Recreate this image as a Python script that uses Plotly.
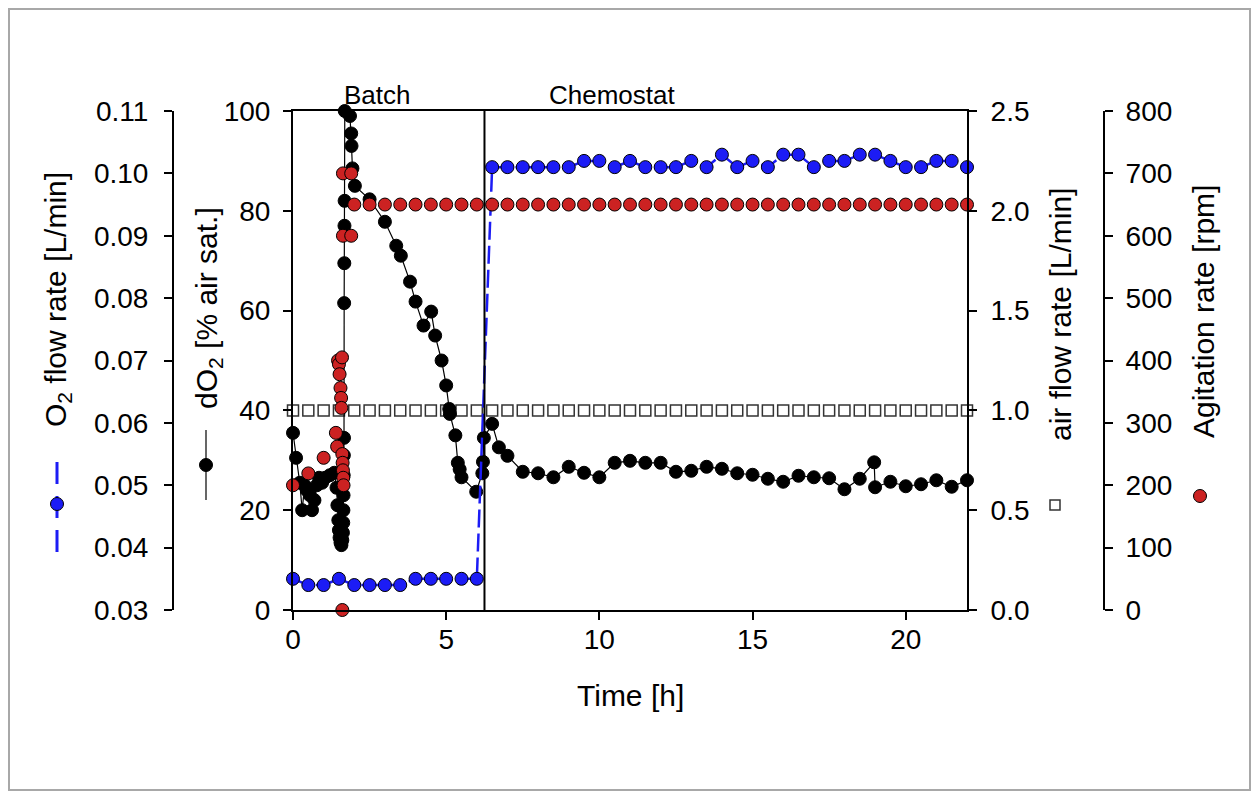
import plotly.graph_objects as go

# ---------------- data ----------------
# dissolved oxygen dO2 [% air sat.]
do2_time = [0.00, 0.10, 0.22, 0.30, 0.38, 0.45, 0.55, 0.62, 0.70, 0.78, 0.85, 0.95, 1.05, 1.20,
            1.35, 1.42, 1.45, 1.48, 1.50, 1.52, 1.55, 1.58, 1.61, 1.63, 1.64, 1.645, 1.65, 1.655,
            1.66, 1.665, 1.67, 1.675, 1.68, 1.685, 1.69, 1.86, 1.90, 1.91, 1.94, 2.02,
            2.50, 3.00, 3.37, 3.52, 3.82, 4.00, 4.26, 4.51, 4.64, 4.85, 5.00, 5.10, 5.12, 5.30,
            5.38, 5.44, 5.50, 5.98, 6.18, 6.20, 6.23, 6.50, 6.72,
            7.0, 7.5, 8.0, 8.5, 9.0, 9.5, 10.0, 10.5, 11.0, 11.5, 12.0, 12.5, 13.0, 13.5, 14.0,
            14.5, 15.0, 15.5, 16.0, 16.5, 17.0, 17.5, 18.0, 18.5, 18.97, 19.0, 19.5, 20.0, 20.5,
            21.0, 21.5, 22.0]
do2_value = [35.5, 30.5, 25.5, 20.0, 25.0, 24.0, 23.0, 20.0, 22.0, 25.0, 26.5, 25.5, 26.5, 27.0,
             27.5, 24.5, 21.0, 18.0, 16.0, 14.5, 13.5, 13.0, 14.0, 15.5, 17.5, 20.0, 23.0, 27.0,
             31.0, 34.5, 61.5, 69.5, 77.0, 82.0, 100.0, 99.0, 95.5, 93.0, 88.5, 85.0,
             82.3, 77.8, 73.0, 71.0, 65.8, 61.8, 57.0, 59.8, 55.0, 50.0, 45.0, 40.3, 39.3, 35.0,
             29.5, 28.2, 26.6, 23.7, 27.4, 29.7, 34.5, 37.3, 32.6,
             30.9, 27.7, 27.4, 26.6, 28.7, 27.5, 26.6, 29.5, 29.9, 29.5, 29.5, 27.7, 27.9, 28.7, 28.3,
             27.4, 27.1, 26.3, 25.7, 26.9, 26.6, 26.4, 24.2, 26.3, 29.6, 24.6, 25.7, 24.8, 25.2,
             26.0, 24.7, 26.0]

# O2 flow rate [L/min]
o2_time = [0.0, 0.5, 1.0, 1.5, 2.0, 2.5, 3.0, 3.5, 4.0, 4.5, 5.0, 5.5, 6.0,
           6.5, 7.0, 7.5, 8.0, 8.5, 9.0, 9.5, 10.0, 10.5, 11.0, 11.5, 12.0, 12.5, 13.0, 13.5,
           14.0, 14.5, 15.0, 15.5, 16.0, 16.5, 17.0, 17.5, 18.0, 18.5, 19.0, 19.5, 20.0, 20.5,
           21.0, 21.5, 22.0]
o2_value = [0.035, 0.034, 0.034, 0.035, 0.034, 0.034, 0.034, 0.034, 0.035, 0.035, 0.035, 0.035, 0.035,
            0.101, 0.101, 0.101, 0.101, 0.101, 0.101, 0.102, 0.102, 0.101, 0.102, 0.101, 0.101, 0.101,
            0.102, 0.101, 0.103, 0.101, 0.102, 0.101, 0.103, 0.103, 0.101, 0.102, 0.102, 0.103, 0.103,
            0.102, 0.101, 0.101, 0.102, 0.102, 0.101]

# air flow rate [L/min]
air_time = [0.0, 0.5, 1.0, 1.5, 2.0, 2.5, 3.0, 3.5, 4.0, 4.5, 5.0, 5.5, 6.0, 6.5, 7.0, 7.5,
            8.0, 8.5, 9.0, 9.5, 10.0, 10.5, 11.0, 11.5, 12.0, 12.5, 13.0, 13.5, 14.0, 14.5,
            15.0, 15.5, 16.0, 16.5, 17.0, 17.5, 18.0, 18.5, 19.0, 19.5, 20.0, 20.5, 21.0, 21.5, 22.0]
air_value = [1.0, 1.0, 1.0, 1.0, 1.0, 1.0, 1.0, 1.0, 1.0, 1.0, 1.0, 1.0, 1.0, 1.0, 1.0, 1.0,
             1.0, 1.0, 1.0, 1.0, 1.0, 1.0, 1.0, 1.0, 1.0, 1.0, 1.0, 1.0, 1.0, 1.0,
             1.0, 1.0, 1.0, 1.0, 1.0, 1.0, 1.0, 1.0, 1.0, 1.0, 1.0, 1.0, 1.0, 1.0, 1.0]

# agitation rate [rpm]
agi_time = [0.0, 0.5, 1.0, 1.40, 1.44, 1.47, 1.50, 1.52, 1.55, 1.57, 1.58, 1.60, 1.61, 1.61,
            1.62, 1.63, 1.64, 1.65, 1.63, 1.63, 1.90, 1.90,
            2.0, 2.5, 3.0, 3.5, 4.0, 4.5, 5.0, 5.5, 6.0, 6.5, 7.0, 7.5, 8.0, 8.5, 9.0, 9.5,
            10.0, 10.5, 11.0, 11.5, 12.0, 12.5, 13.0, 13.5, 14.0, 14.5, 15.0, 15.5, 16.0, 16.5,
            17.0, 17.5, 18.0, 18.5, 19.0, 19.5, 20.0, 20.5, 21.0, 21.5, 22.0]
agi_value = [200, 219, 244, 284, 262, 400, 394, 378, 356, 340, 324, 405, 250, 0,
             236, 224, 212, 200, 700, 600, 700, 600,
             650, 650, 650, 650, 650, 650, 650, 650, 650, 650, 650, 650, 650, 650, 650, 650,
             650, 650, 650, 650, 650, 650, 650, 650, 650, 650, 650, 650, 650, 650,
             650, 650, 650, 650, 650, 650, 650, 650, 650, 650, 650]

phase_switch_h = 6.25
x_ticks = [0, 5, 10, 15, 20]

# ---------------- layout helpers ----------------
# page body has an 8px margin: figure is drawn from screen (8, 8) and must fit the window
OFF = 8
W, H = 1244, 784
ML, MR = 32, 1260 - OFF - 1220          # paper spans screen x 40 .. 1220
MT, MB = 103, (OFF + H) - 610           # plot area spans screen y 111 .. 610
PW = W - ML - MR
PH = H - MT - MB


def fx(p):  # screen x -> paper x
    return (p - OFF - ML) / PW


def fy(p):  # screen y -> paper y
    return (OFF + MT + PH - p) / PH


FONT = "Liberation Sans, Arial, sans-serif"
TICKFONT = dict(family=FONT, size=28, color="black")
BLUE = "#1c1cf5"
RED = "#cc2222"

axis_common = dict(showgrid=False, zeroline=False, showline=True, linecolor="black",
                   linewidth=2, ticks="outside", ticklen=8, tickwidth=2, tickcolor="black",
                   tickfont=TICKFONT)

fig = go.Figure()

# air flow (main y axis, drawn first / lowest)
fig.add_trace(go.Scatter(x=air_time, y=air_value, mode="markers", yaxis="y",
                         marker=dict(symbol="square-open", size=11, color="#333333",
                                     line=dict(width=1.5)),
                         cliponaxis=False, showlegend=False))
# dO2
fig.add_trace(go.Scatter(x=do2_time, y=do2_value, mode="lines+markers", yaxis="y2",
                         line=dict(color="black", width=1.2),
                         marker=dict(size=13, color="black", line=dict(color="black", width=1)),
                         cliponaxis=False, showlegend=False))
# O2 flow
fig.add_trace(go.Scatter(x=o2_time, y=o2_value, mode="lines+markers", yaxis="y3",
                         line=dict(color=BLUE, width=2.5, dash="18px,6px"),
                         marker=dict(size=13, color=BLUE, line=dict(color="black", width=1)),
                         cliponaxis=False, showlegend=False))
# agitation
fig.add_trace(go.Scatter(x=agi_time, y=agi_value, mode="markers", yaxis="y4",
                         marker=dict(size=13, color=RED, line=dict(color="black", width=1)),
                         cliponaxis=False, showlegend=False))

xdom = [fx(293), fx(967)]

fig.update_layout(
    width=W, height=H,
    margin=dict(l=ML, r=MR, t=MT, b=MB),
    paper_bgcolor="white", plot_bgcolor="white",
    font=dict(family=FONT, color="black"),
    showlegend=False,
    xaxis=dict(axis_common, domain=xdom, range=[0, 22], tickvals=x_ticks, mirror=True,
               anchor="y2", ticklabelstandoff=-5),
    yaxis=dict(axis_common, range=[0, 2.5], tickvals=[0, 0.5, 1.0, 1.5, 2.0, 2.5],
               tickformat=".1f", side="right", anchor="x", ticklabelstandoff=8),
    yaxis2=dict(axis_common, range=[0, 100], tickvals=[0, 20, 40, 60, 80, 100],
                side="left", anchor="x", overlaying="y", ticklabelstandoff=7),
    yaxis3=dict(axis_common, range=[0.03, 0.11],
                tickvals=[0.03, 0.04, 0.05, 0.06, 0.07, 0.08, 0.09, 0.10, 0.11],
                tickformat=".2f", side="left", anchor="free", position=fx(173), overlaying="y",
                ticklabelstandoff=10),
    yaxis4=dict(axis_common, range=[0, 800], tickvals=[0, 100, 200, 300, 400, 500, 600, 700, 800],
                side="right", anchor="free", position=fx(1104), overlaying="y",
                ticklabelstandoff=7),
)

ann = []


def add_text(text, x, y, size=30, angle=0):
    ann.append(dict(text=text, x=fx(x), y=fy(y), xref="paper", yref="paper",
                    showarrow=False, textangle=angle, xanchor="center", yanchor="middle",
                    font=dict(family=FONT, size=size, color="black")))


add_text("O<sub>2</sub> flow rate [L/min]", 57, 300, angle=-90)
add_text("dO<sub>2</sub> [% air sat.]", 208, 308, angle=-90)
add_text("air flow rate [L/min]", 1060, 315, angle=-90)
add_text("Agitation rate [rpm]", 1203, 312, angle=-90)
add_text("Time [h]", 630, 695)
add_text("Batch", 377, 95, size=26)
add_text("Chemostat", 612, 95, size=26)
fig.update_layout(annotations=ann)

shapes = []
# phase separator
shapes.append(dict(type="line", xref="x", yref="paper", x0=phase_switch_h, x1=phase_switch_h,
                   y0=0, y1=1, line=dict(color="black", width=2)))
# outer frame
shapes.append(dict(type="rect", xref="paper", yref="paper", x0=fx(9), x1=fx(1250),
                   y0=fy(9), y1=fy(790), line=dict(color="#a8a8a8", width=2)))


def sym_line(x, y0, y1, color, dash="solid", width=2):
    shapes.append(dict(type="line", xref="paper", yref="paper", x0=fx(x), x1=fx(x),
                       y0=fy(y0), y1=fy(y1), line=dict(color=color, width=width, dash=dash)))


def sym_circle(x, y, color, d=13):
    shapes.append(dict(type="circle", xref="paper", yref="paper", x0=fx(x - d / 2), x1=fx(x + d / 2),
                       y0=fy(y + d / 2), y1=fy(y - d / 2), fillcolor=color,
                       line=dict(color="black", width=1)))


def sym_square(x, y, d=10):
    shapes.append(dict(type="rect", xref="paper", yref="paper", x0=fx(x - d / 2), x1=fx(x + d / 2),
                       y0=fy(y + d / 2), y1=fy(y - d / 2), fillcolor="white",
                       line=dict(color="#333333", width=1.5)))


sym_line(57, 462, 556, BLUE, dash="22px,12px", width=3)
sym_circle(57, 504, BLUE)
sym_line(206, 430, 500, "black", width=1.2)
sym_circle(206, 465, "black")
sym_square(1055, 505)
sym_circle(1200, 496, RED)
fig.update_layout(shapes=shapes)

fig.write_html("out.html")
